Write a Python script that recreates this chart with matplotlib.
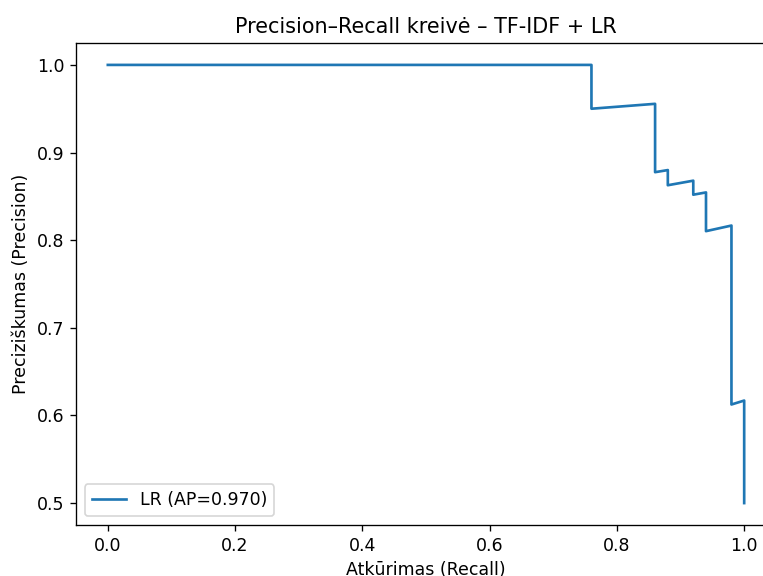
import numpy as np
import matplotlib
matplotlib.use('Agg')
import matplotlib.pyplot as plt


# precision-recall curve vertices
recall = [1.0, 1.0, 0.98, 0.98, 0.94, 0.94, 0.92, 0.92, 0.88, 0.88,
          0.86, 0.86, 0.76, 0.76, 0.0]
precision = [0.5, 0.617, 0.6125, 0.8167, 0.8103, 0.8545, 0.8519, 0.8679,
             0.8627, 0.88, 0.8776, 0.9556, 0.95, 1.0, 1.0]
ap = 0.970
label = f'LR (AP={ap:.3f})'

plt.rcParams['font.size'] = 10.4
fig = plt.figure(figsize=(763 / 120, 576 / 120), dpi=120)
ax = fig.add_axes([76 / 763, 51 / 576, 700 / 763, 482 / 576])
ax.plot(recall, precision, label=label, lw=1.6)
ax.set_xlabel('Atkūrimas (Recall)')
ax.set_ylabel('Preciziškumas (Precision)')
ax.set_title('Precision–Recall kreivė – TF-IDF + LR')
ax.legend(loc='lower left')
fig.savefig('out.png', dpi=120)
